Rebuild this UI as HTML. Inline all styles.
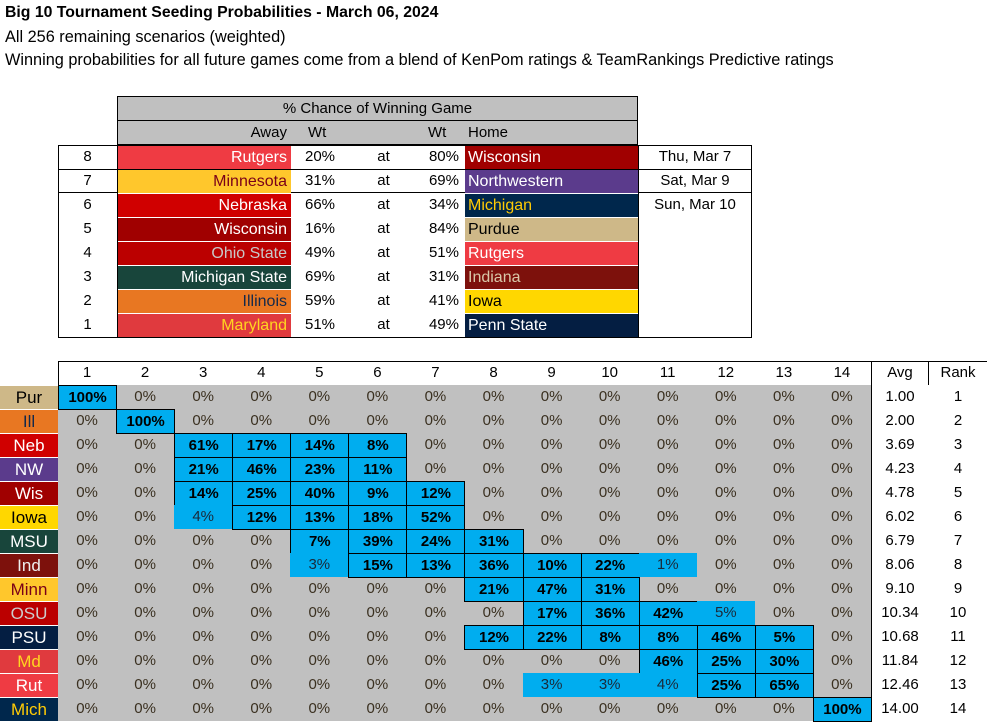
<!DOCTYPE html>
<html><head><meta charset="utf-8"><style>
body{margin:0;width:987px;height:721px;background:#fff;position:relative;overflow:hidden;font-family:"Liberation Sans",Arial,sans-serif;color:#000}
.a{position:absolute;box-sizing:border-box;white-space:nowrap;overflow:hidden}
.t{position:absolute;left:5px;white-space:nowrap;color:#000}
</style></head><body>
<div class="t" style="top:4px;font-size:15.8px;font-weight:bold">Big 10 Tournament Seeding Probabilities - March 06, 2024</div>
<div class="t" style="top:28px;font-size:16.3px">All 256 remaining scenarios (weighted)</div>
<div class="t" style="top:51px;font-size:16.3px">Winning probabilities for all future games come from a blend of KenPom ratings &amp; TeamRankings Predictive ratings</div>
<div id="root"></div>
<script>
// ---- games table data ----
const gameNums=[8,7,6,5,4,3,2,1];
const awayTeams=["Rutgers","Minnesota","Nebraska","Wisconsin","Ohio State","Michigan State","Illinois","Maryland"];
const awayBg=["#EF3B43","#FFC72C","#D00000","#A00000","#BB0000","#18453B","#E87722","#E03A3E"];
const awayFg=["#fff","#7A0019","#fff","#fff","#c8c8c8","#fff","#13294B","#FFD520"];
const awayPct=["20%","31%","66%","16%","49%","69%","59%","51%"];
const homePct=["80%","69%","34%","84%","51%","31%","41%","49%"];
const homeTeams=["Wisconsin","Northwestern","Michigan","Purdue","Rutgers","Indiana","Iowa","Penn State"];
const homeBg=["#A00000","#5B3B8C","#00274C","#CEB888","#EF3B43","#7D110C","#FFD700","#041E42"];
const homeFg=["#fff","#fff","#FFCB05","#000","#fff","#d9c8a9","#000","#fff"];
const dates=["Thu, Mar 7","Sat, Mar 9","Sun, Mar 10"];
// ---- seeding grid data ----
const seedCols=[1,2,3,4,5,6,7,8,9,10,11,12,13,14];
const rowLabels=["Pur","Ill","Neb","NW","Wis","Iowa","MSU","Ind","Minn","OSU","PSU","Md","Rut","Mich"];
const labelBg=["#CEB888","#E87722","#D00000","#5B3B8C","#A00000","#FFD700","#18453B","#7D110C","#FFC72C","#BB0000","#041E42","#E03A3E","#EF3B43","#00274C"];
const labelFg=["#000","#13294B","#fff","#fff","#fff","#000","#fff","#eee","#7A0019","#ccc","#fff","#FFD520","#fff","#FFCB05"];
const probs=[
[100,0,0,0,0,0,0,0,0,0,0,0,0,0],
[0,100,0,0,0,0,0,0,0,0,0,0,0,0],
[0,0,61,17,14,8,0,0,0,0,0,0,0,0],
[0,0,21,46,23,11,0,0,0,0,0,0,0,0],
[0,0,14,25,40,9,12,0,0,0,0,0,0,0],
[0,0,4,12,13,18,52,0,0,0,0,0,0,0],
[0,0,0,0,7,39,24,31,0,0,0,0,0,0],
[0,0,0,0,3,15,13,36,10,22,1,0,0,0],
[0,0,0,0,0,0,0,21,47,31,0,0,0,0],
[0,0,0,0,0,0,0,0,17,36,42,5,0,0],
[0,0,0,0,0,0,0,12,22,8,8,46,5,0],
[0,0,0,0,0,0,0,0,0,0,46,25,30,0],
[0,0,0,0,0,0,0,0,3,3,4,25,65,0],
[0,0,0,0,0,0,0,0,0,0,0,0,0,100]];
const weakCells=["5-2","7-4","7-10","9-11","12-8","12-9","12-10"];
const avgs=["1.00","2.00","3.69","4.23","4.78","6.02","6.79","8.06","9.10","10.34","10.68","11.84","12.46","14.00"];
const ranks=[1,2,3,4,5,6,7,8,9,10,11,12,13,14];

const root=document.getElementById('root');
function box(x,y,w,h,txt,css){
  const d=document.createElement('div');d.className='a';
  d.style.cssText=`left:${x}px;top:${y}px;width:${w}px;height:${h}px;line-height:${h}px;`+(css||'');
  d.textContent=txt;root.appendChild(d);return d;
}
let e;
e=box(117,96,521,49,'','background:#c0c0c0;border:1px solid #000;');


e=box(117,96,521,25,'% Chance of Winning Game','text-align:center;font-size:15px;border-bottom:1px solid #000;');


e=box(117,121,170,24,'Away','text-align:right;font-size:15px;');


e=box(291,121,60,24,'Wt','padding-left:17px;font-size:15px;');


e=box(410,121,55,24,'Wt','padding-left:18px;font-size:15px;');


e=box(465,121,100,24,'Home','padding-left:3px;font-size:15px;');


e=box(58,145,694,193,'','border:1px solid #000;');


e=box(58,169,694,24,'','border-top:1px solid #000;border-bottom:1px solid #000;');


e=box(117,145,0,193,'','border-left:1px solid #000;');


e=box(638,145,0,193,'','border-left:1px solid #000;');


gameNums.forEach((n,i)=>{
  const y=145+i*24;
  e=box(58,y,59,24,String(n),'text-align:center;font-size:15px;');
  
  
  e=box(118,y+1,173,23,awayTeams[i],`background:${awayBg[i]};color:${awayFg[i]};text-align:right;padding-right:4px;font-size:16px;line-height:23px;`);
  
  
  e=box(291,y,60,24,awayPct[i],'padding-left:14px;font-size:15px;');
  
  
  e=box(351,y,59,24,'at','text-align:center;font-size:15px;padding-left:6px;');
  
  
  e=box(410,y,55,24,homePct[i],'text-align:right;padding-right:6px;font-size:15px;');
  
  
  e=box(465,y+1,173,23,homeTeams[i],`background:${homeBg[i]};color:${homeFg[i]};padding-left:3px;font-size:16px;line-height:23px;`);
  
  
  if(i<dates.length){
    e=box(638,y,114,24,dates[i],'text-align:center;font-size:15px;');
    
    
  }
});
const X0=58,CW=58.07,Y0=385,RH=24;
const xAt=c=>X0+c*CW;
const yAt=r=>Y0+r*RH;
e=box(58,361,929,24,'','border-top:1px solid #000;border-left:1px solid #000;');


seedCols.forEach((c,j)=>{
  e=box(xAt(j),361,CW,24,String(c),'text-align:center;font-size:15px;');
  
  
});
e=box(871,361,58,24,'Avg','text-align:center;font-size:15px;border-left:1px solid #000;border-right:1px solid #000;');


e=box(929,361,58,24,'Rank','text-align:center;font-size:15px;');


e=box(58,385,813,336,'','background:#c0c0c0;');


e=box(871,385,0,336,'','border-left:1px solid #000;');


rowLabels.forEach((lab,r)=>{
  const y=yAt(r);
  e=box(0,y,58,RH,lab,`background:${labelBg[r]};color:${labelFg[r]};text-align:center;font-size:17px;border-top:1px solid #fff;line-height:23px;`);
  
  
  probs[r].forEach((v,c)=>{
    const on=v>0;
    const weak=weakCells.includes(r+'-'+c);
    const strong=on&&!weak;
    let css='text-align:center;font-size:15px;';
    if(on){css+='background:#00ADEF;';css+= weak?'color:#1a2a3a;':'font-weight:bold;border:1px solid #000;line-height:'+(RH-1)+'px;';}
    else css+='color:#3a3020;';
    e=box(xAt(c),y,CW+(strong?1:0),RH+(strong?1:0),v+'%',css);
    
    
  });
  e=box(871,y,58,RH,avgs[r],'text-align:center;font-size:15px;');
  
  
  e=box(929,y,58,RH,String(ranks[r]),'text-align:center;font-size:15px;');
  
  
});
</script>
</body></html>
